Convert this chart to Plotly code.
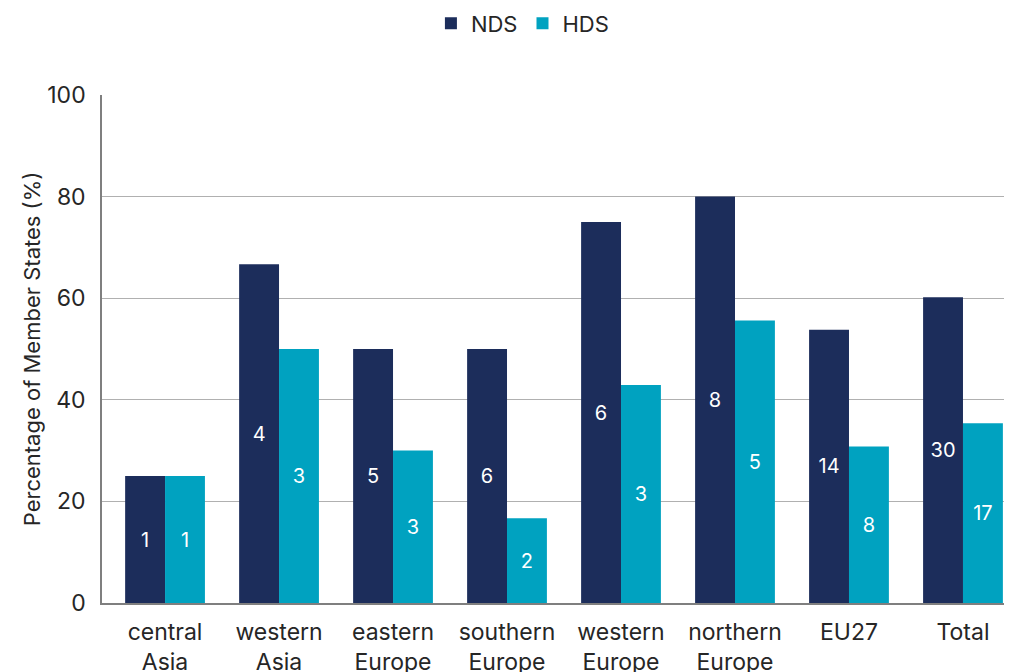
import plotly.graph_objects as go

categories = ["central<br>Asia", "western<br>Asia", "eastern<br>Europe", "southern<br>Europe",
              "western<br>Europe", "northern<br>Europe", "EU27", "Total"]
nds_pct = [25, 66.7, 50, 50, 75, 80, 53.8, 60.2]
hds_pct = [25, 50, 30, 16.7, 42.9, 55.6, 30.8, 35.4]
nds_count = [1, 4, 5, 6, 6, 8, 14, 30]
hds_count = [1, 3, 3, 2, 3, 5, 8, 17]

NDS_COLOR = "#1c2d5b"
HDS_COLOR = "#00a2c0"
FONT = "Inter"
TXT = "#262626"

fig = go.Figure()
fig.add_trace(go.Bar(name="NDS", x=categories, y=nds_pct, text=[str(v) for v in nds_count],
                     marker=dict(color=NDS_COLOR, line=dict(width=0)),
                     textposition="inside", insidetextanchor="middle",
                     textfont=dict(color="white", size=20, family=FONT)))
fig.add_trace(go.Bar(name="HDS", x=categories, y=hds_pct, text=[str(v) for v in hds_count],
                     marker=dict(color=HDS_COLOR, line=dict(width=0)),
                     textposition="inside", insidetextanchor="middle",
                     textfont=dict(color="white", size=20, family=FONT)))

fig.update_layout(
    width=1012, height=672,
    margin=dict(l=94, r=8, t=87, b=77, autoexpand=False),
    paper_bgcolor="white", plot_bgcolor="white",
    font=dict(family=FONT, color=TXT, size=22),
    barmode="group", bargap=0.3, bargroupgap=0,
    uniformtext=dict(mode="show", minsize=20),
    legend=dict(orientation="h", x=0.462, xanchor="center", yref="container", y=0.977,
                yanchor="middle", font=dict(size=22, color=TXT), traceorder="normal", itemwidth=30),
    xaxis=dict(range=[-0.553, 7.43], showgrid=False, showline=True, linecolor="#7f7f7f",
               linewidth=1.5, ticks="", tickfont=dict(size=23, color=TXT), automargin=False,
               ticklabelstandoff=8),
    yaxis=dict(range=[0, 100], dtick=20, showgrid=True, gridcolor="#b0b0b0", gridwidth=1,
               showline=True, linecolor="#7f7f7f", linewidth=1.5, ticks="",
               tickfont=dict(size=23, color=TXT), zeroline=False, automargin=False,
               ticklabelstandoff=10,
               title=dict(text="Percentage of Member States (%)", font=dict(size=22, color=TXT),
                          standoff=1)),
)
fig.write_html("out.html")
